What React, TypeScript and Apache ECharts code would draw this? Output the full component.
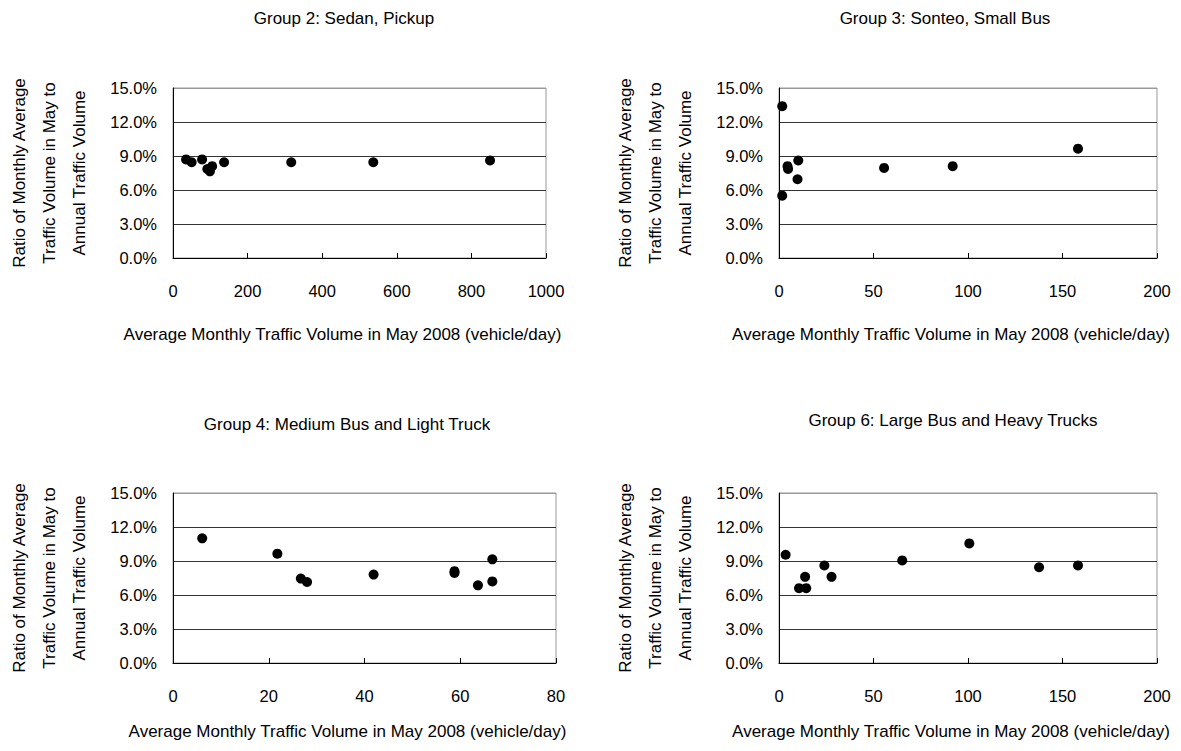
import React, { useEffect, useRef } from "react";
import * as echarts from "echarts";

// ---- Data (x: vehicle/day, y: ratio in %) ----
const titles = [
  "Group 2: Sedan, Pickup",
  "Group 3: Sonteo, Small Bus",
  "Group 4: Medium Bus and Light Truck",
  "Group 6: Large Bus and Heavy Trucks",
];

const group2X = [35, 50, 78, 92, 99, 105, 137, 317, 537, 850];
const group2Y = [8.7, 8.45, 8.7, 7.85, 7.65, 8.1, 8.45, 8.45, 8.45, 8.6];

const group3X = [1.7, 1.7, 4.5, 4.8, 10.2, 9.8, 55.6, 91.9, 158.2];
const group3Y = [13.4, 5.5, 8.1, 7.85, 8.6, 6.95, 7.95, 8.1, 9.65];

const group4X = [6.1, 21.8, 26.7, 28.0, 41.9, 58.8, 58.8, 63.7, 66.7, 66.7];
const group4Y = [11.0, 9.65, 7.45, 7.15, 7.8, 8.1, 7.95, 6.85, 7.2, 9.15];

const group6X = [3.5, 10.6, 14.4, 13.8, 24, 27.8, 65.2, 100.7, 137.6, 158.2];
const group6Y = [9.55, 6.6, 6.6, 7.6, 8.6, 7.6, 9.05, 10.55, 8.45, 8.6];

const xMaxes = [1000, 200, 80, 200];
const xIntervals = [200, 50, 20, 50];
const yMax = 15;
const yInterval = 3;

const xAxisName = "Average Monthly Traffic Volume in May 2008 (vehicle/day)";
const yAxisName = "Ratio of Monthly Average\nTraffic Volume in May to\nAnnual Traffic Volume";

const seriesX = [group2X, group3X, group4X, group6X];
const seriesY = [group2Y, group3Y, group4Y, group6Y];

// ---- Layout ----
const FONT = "Liberation Sans, Arial, sans-serif";
const grids = [
  { left: 173, top: 88, width: 373, height: 170 },
  { left: 779, top: 88, width: 378, height: 170 },
  { left: 173, top: 493, width: 383, height: 170 },
  { left: 779, top: 493, width: 378, height: 170 },
];
const titlePos = [
  { x: 344, y: 10 },
  { x: 945, y: 10 },
  { x: 347, y: 416 },
  { x: 953, y: 412 },
];
const xNameGaps = [68, 68, 60, 60];

export default function App() {
  const ref = useRef<HTMLDivElement>(null);

  useEffect(() => {
    if (!ref.current) return;
    const chart = echarts.init(ref.current, undefined, { renderer: "svg" });

    const option: any = {
      animation: false,
      backgroundColor: "#ffffff",
      textStyle: { fontFamily: FONT },
      title: titles.map((t, i) => ({
        text: t,
        left: titlePos[i].x,
        top: titlePos[i].y,
        textAlign: "center",
        padding: 0,
        textStyle: { fontFamily: FONT, fontSize: 17, fontWeight: "normal", color: "#000" },
      })),
      grid: grids.map((g) => ({
        ...g,
        show: true,
        borderColor: "#999",
        borderWidth: 1,
        backgroundColor: "#fff",
        containLabel: false,
      })),
      xAxis: grids.map((_, i) => ({
        type: "value",
        gridIndex: i,
        min: 0,
        max: xMaxes[i],
        interval: xIntervals[i],
        name: xAxisName,
        nameLocation: "middle",
        nameGap: xNameGaps[i],
        nameTextStyle: {
          fontFamily: FONT,
          fontSize: 17,
          color: "#000",
          padding: [0, 34, 0, 0],
        },
        axisLine: { show: true, onZero: false, lineStyle: { color: "#000", width: 1 } },
        axisTick: { show: true, inside: true, length: 5, lineStyle: { color: "#000" } },
        axisLabel: {
          margin: 24,
          fontFamily: FONT,
          fontSize: 16.5,
          color: "#000",
          formatter: (v: number) => String(v),
        },
        splitLine: { show: false },
      })),
      yAxis: grids.map((_, i) => ({
        type: "value",
        gridIndex: i,
        min: 0,
        max: yMax,
        interval: yInterval,
        name: yAxisName,
        nameLocation: "middle",
        nameRotate: 90,
        nameGap: 79,
        nameTextStyle: {
          fontFamily: FONT,
          fontSize: 17,
          lineHeight: 30,
          color: "#000",
          align: "center",
        },
        axisLine: { show: true, onZero: false, lineStyle: { color: "#000", width: 1 } },
        axisTick: { show: false },
        axisLabel: {
          margin: 16,
          fontFamily: FONT,
          fontSize: 16.5,
          color: "#000",
          formatter: (v: number) => v.toFixed(1) + "%",
        },
        splitLine: {
          show: true,
          lineStyle: { color: ["#333", "#333", "#333", "#333", "#333", "#999"], width: 1 },
        },
      })),
      series: seriesX.map((xs, i) => ({
        type: "scatter",
        xAxisIndex: i,
        yAxisIndex: i,
        symbol: "circle",
        symbolSize: 10,
        itemStyle: { color: "#000", opacity: 1 },
        data: xs.map((x, j) => [x, seriesY[i][j]]),
      })),
    };

    chart.setOption(option);
    return () => chart.dispose();
  }, []);

  return (
    <div
      ref={ref}
      style={{ position: "absolute", left: 0, top: 0, width: 1181, height: 751, background: "#fff" }}
    />
  );
}
